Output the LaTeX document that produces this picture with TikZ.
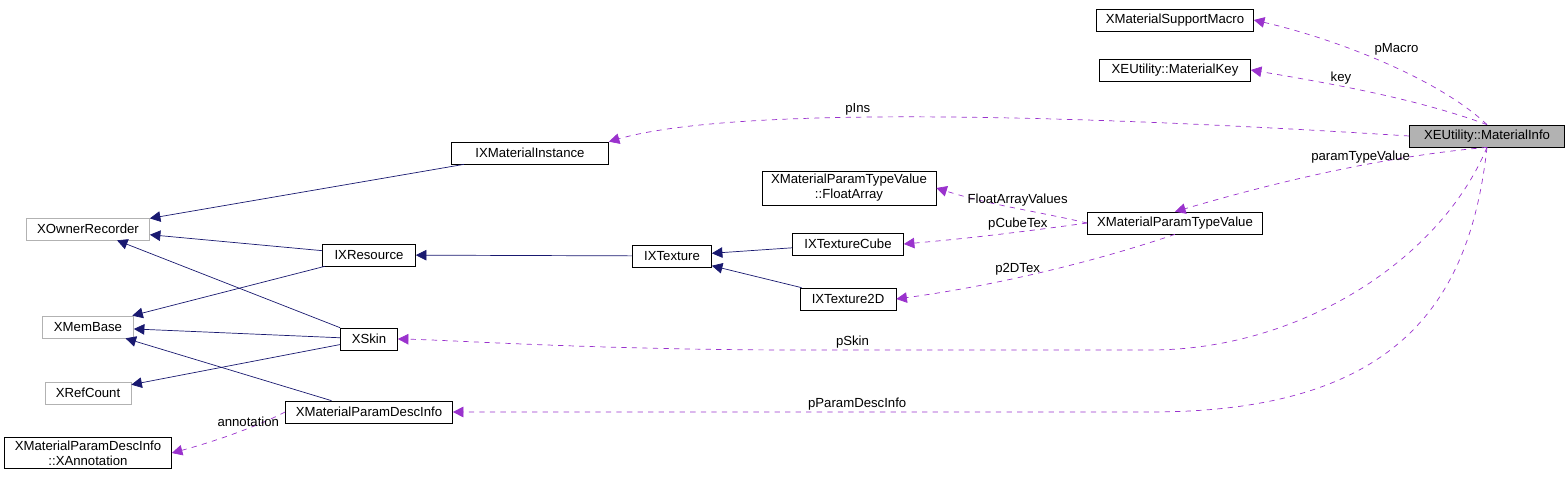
\documentclass[tikz,border=0pt]{standalone}
\usepackage{fontspec}
\setmainfont{Liberation Sans}
\usetikzlibrary{arrows.meta}
\definecolor{memberc}{HTML}{9A32CD}
\definecolor{inhc}{HTML}{191970}
\tikzset{
  cls/.style={rectangle, draw, thin, fill=white, font=\fontsize{7.5}{8.5}\selectfont, inner sep=2pt, minimum height=0.44cm, align=center},
  ext/.style={cls, draw=gray!60},
  main/.style={cls, fill=gray!60},
  inh/.style={draw=inhc, -{Triangle[length=6pt,width=6pt]}},
  use/.style={draw=memberc, dashed, -{Triangle[length=6pt,width=6pt]}},
  lbl/.style={font=\fontsize{7.5}{8.5}\selectfont, inner sep=1pt}
}
\begin{document}
\begin{tikzpicture}[x=0.02cm, y=-0.02cm]
\useasboundingbox (0,0) rectangle (1568,479);

% classes
\node [cls, minimum width=3.14cm] at (1175,20) (macro) {XMaterialSupportMacro};
\node [cls, minimum width=3.02cm] at (1175,70) (key) {XEUtility::MaterialKey};
\node [main, minimum width=3.1cm] at (1487,136) (info) {XEUtility::MaterialInfo};
\node [cls, minimum width=3.14cm] at (530,153) (inst) {IXMaterialInstance};
\node [cls, minimum width=3.48cm] at (849,188) (farr) {XMaterialParamTypeValue\\::FloatArray};
\node [cls, minimum width=3.5cm] at (1175,223) (ptv) {XMaterialParamTypeValue};
\node [ext, minimum width=2.46cm] at (88,229) (owner) {XOwnerRecorder};
\node [cls, minimum width=1.86cm] at (369,255) (res) {IXResource};
\node [cls, minimum width=1.58cm] at (672,256) (tex) {IXTexture};
\node [cls, minimum width=2.22cm] at (848,244) (cube) {IXTextureCube};
\node [cls, minimum width=1.92cm] at (848,299) (tex2d) {IXTexture2D};
\node [ext, minimum width=1.82cm] at (88,327) (mem) {XMemBase};
\node [cls, minimum width=1.14cm] at (369,339) (skin) {XSkin};
\node [ext, minimum width=1.72cm] at (88,393) (ref) {XRefCount};
\node [cls, minimum width=3.34cm] at (369,412) (desc) {XMaterialParamDescInfo};
\node [cls, minimum width=3.34cm] at (88,453) (annot) {XMaterialParamDescInfo\\::XAnnotation};

% inheritance
\draw [inh] (inst) -- (owner);
\draw [inh] (res) -- (owner);
\draw [inh] (res) -- (mem);
\draw [inh] (tex) -- (res);
\draw [inh] (cube) -- (tex);
\draw [inh] (tex2d) -- (tex);
\draw [inh] (skin) -- (owner);
\draw [inh] (skin) -- (mem);
\draw [inh] (skin) -- (ref);
\draw [inh] (desc) -- (mem);

% members
\draw [use] (info.north) .. controls (1440,80) and (1340,40) .. node [lbl, above right, pos=0.55] {pMacro} (macro.east);
\draw [use] (info.north) .. controls (1420,100) and (1340,85) .. node [lbl, above, pos=0.65] {key} (key.east);
\draw [use] (info.west) .. controls (1000,110) and (720,110) .. node [lbl, above, pos=0.55] {pIns} (inst.north east);
\draw [use] (info.south) .. controls (1400,155) and (1300,175) .. node [lbl, above, pos=0.45] {paramTypeValue} (ptv.north);
\draw [use] (ptv.west) .. controls (1030,210) and (990,205) .. node [lbl, above, pos=0.45] {FloatArrayValues} (farr.east);
\draw [use] (ptv.west) .. controls (1000,235) and (950,240) .. node [lbl, above, pos=0.3] {pCubeTex} (cube.east);
\draw [use] (ptv.south) .. controls (1100,260) and (1000,285) .. node [lbl, above, pos=0.6] {p2DTex} (tex2d.east);
\draw [use] (info.south) .. controls (1440,260) and (1300,350) .. (1150,350) -- node [lbl, above, pos=0.85] {pSkin} (800,350) .. controls (600,350) and (450,340) .. (skin.east);
\draw [use] (info.south) .. controls (1470,300) and (1400,412) .. (1150,412) -- node [lbl, above, pos=0.42] {pParamDescInfo} (desc.east);
\draw [use] (desc.west) .. controls (260,425) and (220,440) .. node [lbl, above, pos=0.4] {annotation} (annot.east);
\end{tikzpicture}
\end{document}
